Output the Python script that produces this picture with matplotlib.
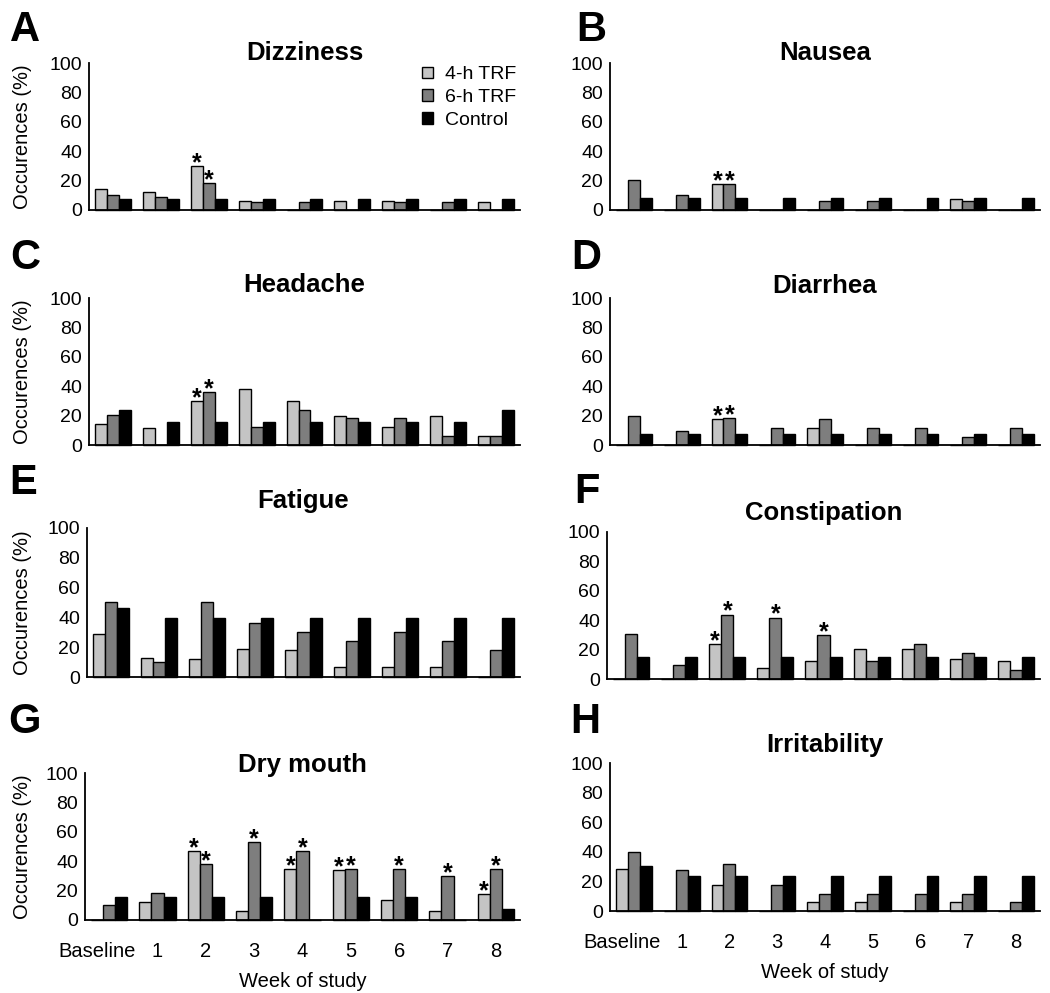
import matplotlib
matplotlib.use("Agg")
import matplotlib.pyplot as plt
import matplotlib.transforms as mtransforms
from matplotlib.patches import Patch

plt.rcParams["font.family"] = ["Liberation Sans", "DejaVu Sans"]

W, H = 1050, 993

weeks = ["Baseline", "1", "2", "3", "4", "5", "6", "7", "8"]
groups = ["4-h TRF", "6-h TRF", "Control"]
colors = ["#c4c4c4", "#7e7e7e", "#000000"]

# occurrences (%) per week: 4-h TRF, 6-h TRF, control
dizziness_4h = [14.3, 12.3, 29.8, 6.1, 0, 6.1, 6.1, 0, 5.2]
dizziness_6h = [10.2, 9.1, 18.4, 5.2, 5.2, 0, 5.2, 5.2, 0]
dizziness_ctl = [7.3, 7.3, 7.3, 7.3, 7.3, 7.3, 7.3, 7.3, 7.3]

nausea_4h = [0, 0, 17.5, 0, 0, 0, 0, 7.3, 0]
nausea_6h = [20.5, 10.2, 17.5, 0, 6.1, 6.1, 0, 6.1, 0]
nausea_ctl = [8.4, 8.4, 8.4, 8.4, 8.4, 8.4, 8.4, 8.4, 8.4]

headache_4h = [14.5, 11.4, 29.8, 38.0, 29.8, 19.5, 12.5, 19.5, 6.4]
headache_6h = [20.7, 0, 35.9, 12.5, 23.6, 18.6, 18.6, 6.4, 6.4]
headache_ctl = [23.6, 15.7, 15.7, 15.7, 15.7, 15.7, 15.7, 15.7, 23.6]

diarrhea_4h = [0, 0, 17.7, 0, 11.6, 0, 0, 0, 0]
diarrhea_6h = [19.8, 9.5, 18.6, 11.6, 17.7, 11.6, 11.6, 5.5, 11.6]
diarrhea_ctl = [7.5, 7.5, 7.5, 7.5, 7.5, 7.5, 7.5, 7.5, 7.5]

fatigue_4h = [29.1, 12.7, 11.8, 18.9, 18.0, 6.6, 6.6, 6.6, 0]
fatigue_6h = [50.5, 9.8, 50.5, 36.1, 30.0, 23.9, 30.0, 23.9, 18.0]
fatigue_ctl = [46.4, 39.3, 39.3, 39.3, 39.3, 39.3, 39.3, 39.3, 39.3]

constipation_4h = [0, 0, 23.5, 7.2, 12.4, 20.5, 20.5, 13.3, 12.4]
constipation_6h = [30.7, 9.3, 43.8, 41.8, 29.6, 12.4, 23.5, 17.4, 6.3]
constipation_ctl = [15.3, 15.3, 15.3, 15.3, 15.3, 15.3, 15.3, 15.3, 15.3]

drymouth_4h = [0, 12.5, 47.0, 6.4, 34.8, 33.9, 13.4, 6.4, 17.5]
drymouth_6h = [10.2, 18.6, 38.0, 53.2, 47.0, 34.8, 34.8, 29.8, 34.8]
drymouth_ctl = [15.5, 15.5, 15.5, 15.5, 0, 15.5, 15.5, 0, 7.3]

irritability_4h = [28.3, 0, 17.3, 0, 6.3, 6.3, 0, 6.3, 0]
irritability_6h = [39.6, 27.4, 31.5, 17.3, 11.2, 11.2, 11.2, 11.2, 6.3]
irritability_ctl = [30.6, 23.4, 23.4, 23.4, 23.4, 23.4, 23.4, 23.4, 23.4]

# significance marks: (week index, group index)
dizziness_stars = [(2, 0), (2, 1)]
nausea_stars = [(2, 0), (2, 1)]
headache_stars = [(2, 0), (2, 1)]
diarrhea_stars = [(2, 0), (2, 1)]
fatigue_stars = []
constipation_stars = [(2, 0), (2, 1), (3, 1), (4, 1)]
drymouth_stars = [(2, 0), (2, 1), (3, 1), (4, 0), (4, 1), (5, 0), (5, 1),
                  (6, 1), (7, 1), (8, 0), (8, 1)]
irritability_stars = []

panels = [
    ("A", "Dizziness", [dizziness_4h, dizziness_6h, dizziness_ctl], dizziness_stars),
    ("B", "Nausea", [nausea_4h, nausea_6h, nausea_ctl], nausea_stars),
    ("C", "Headache", [headache_4h, headache_6h, headache_ctl], headache_stars),
    ("D", "Diarrhea", [diarrhea_4h, diarrhea_6h, diarrhea_ctl], diarrhea_stars),
    ("E", "Fatigue", [fatigue_4h, fatigue_6h, fatigue_ctl], fatigue_stars),
    ("F", "Constipation", [constipation_4h, constipation_6h, constipation_ctl], constipation_stars),
    ("G", "Dry mouth", [drymouth_4h, drymouth_6h, drymouth_ctl], drymouth_stars),
    ("H", "Irritability", [irritability_4h, irritability_6h, irritability_ctl], irritability_stars),
]

# layout in pixels: axes (left, top, right, bottom), title baseline, letter (x, baseline)
boxes = [(89, 63, 520, 210), (610, 63, 1040, 210),
         (89, 298, 520, 445), (610, 298, 1040, 445),
         (87, 528, 520, 677), (607, 532, 1040, 679),
         (85, 773, 520, 920), (610, 763, 1040, 911)]
title_y = [60, 60, 292, 293, 508, 520, 772, 752]
letter_xy = [(10, 41), (576, 41), (10, 269), (571, 269),
             (9, 494), (574, 503), (8, 733), (570, 733)]

fig = plt.figure(figsize=(W / 100, H / 100), dpi=100)

bw = 0.25
for i, (letter, name, series, stars) in enumerate(panels):
    l, t, r, b = boxes[i]
    ax = fig.add_axes([l / W, 1 - b / H, (r - l) / W, (b - t) / H])
    x = list(range(len(weeks)))
    for g, vals in enumerate(series):
        ax.bar([xi + (g - 1) * bw for xi in x], vals, width=bw,
               color=colors[g], edgecolor="black", linewidth=1.0,
               label=groups[g], clip_on=False)
    for wk, g in stars:
        h = series[g][wk]
        ax.annotate("*", (wk + (g - 1) * bw, h), xytext=(0, -3),
                    textcoords="offset points", ha="center", va="baseline",
                    fontsize=18, fontweight="bold")
    ax.set_xlim(-0.5, 8.5)
    ax.set_ylim(0, 100)
    ax.set_yticks([0, 20, 40, 60, 80, 100])
    ax.tick_params(axis="y", length=0, pad=5, labelsize=14)
    ax.tick_params(axis="x", length=0)
    for s in ["top", "right"]:
        ax.spines[s].set_visible(False)
    for s in ["left", "bottom"]:
        ax.spines[s].set_linewidth(1.3)
    if i >= 6:
        ax.set_xticks(x)
        ax.set_xticklabels(weeks, fontsize=14.5)
        ax.tick_params(axis="x", pad=16)
        first = ax.get_xticklabels()[0]
        first.set_transform(first.get_transform() +
                            mtransforms.ScaledTranslation(-12 / 100, 0, fig.dpi_scale_trans))
        ax.set_xlabel("Week of study", fontsize=14.5, labelpad=8)
    else:
        ax.set_xticks([])
    if i % 2 == 0:
        fig.text(23 / W, 1 - (t + b) / 2 / H, "Occurences (%)", rotation=90,
                 ha="center", va="center", fontsize=14.5)
    fig.text((l + r) / 2 / W, 1 - title_y[i] / H, name, ha="center",
             va="baseline", fontsize=18.5, fontweight="bold")
    lx, ly = letter_xy[i]
    fig.text(lx / W, 1 - ly / H, letter, ha="left", va="baseline",
             fontsize=30, fontweight="bold")
    if i == 0:
        handles = [Patch(facecolor=c, edgecolor="black", linewidth=1.0) for c in colors]
        ax.legend(handles, groups, loc="upper left", bbox_to_anchor=(0.755, 1.03),
                  frameon=False, fontsize=14, handlelength=0.55, handleheight=0.55,
                  handletextpad=0.6, labelspacing=0.3, borderaxespad=0)

fig.savefig("out.png", dpi=100)
